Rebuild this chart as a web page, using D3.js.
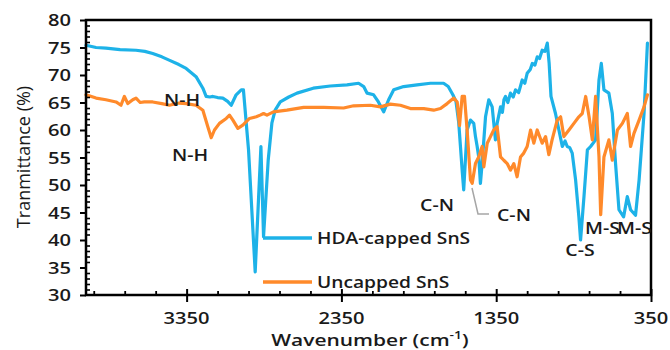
<!DOCTYPE html>
<html>
<head>
<meta charset="utf-8">
<script src="https://cdn.jsdelivr.net/npm/d3@7"></script>
<style>
  html, body { margin: 0; padding: 0; background: #fff; }
  svg { display: block; font-family: "Open Sans", "DejaVu Sans", sans-serif; }
</style>
</head>
<body>
<svg id="chart" width="670" height="350"></svg>
<script>
// ---------- data ----------
const seriesNames = ["HDA-capped SnS", "Uncapped SnS"];

const hdaWavenumber = [4000,3935,3871,3780,3677,3620,3569,3510,3463,3400,3353,3289,3245,3224,3200,3180,3150,3116,3085,3062,3030,2997,2983,2961,2950,2907,2870,2853,2823,2799,2778,2745,2690,2637,2532,2422,2314,2239,2206,2184,2142,2111,2077,2045,2012,1948,1861,1775,1690,1660,1630,1610,1592,1570,1560,1538,1516,1495,1484,1473,1463,1452,1441,1419,1398,1376,1355,1344,1322,1310,1300,1290,1275,1258,1240,1225,1205,1182,1165,1150,1130,1117,1100,1085,1070,1053,1035,1020,1008,996,967,945,923,905,891,875,859,837,816,805,783,761,740,708,686,671,654,622,600,579,557,527,503,482,450,427,395,373];
const hdaTransmittance = [75.4,75.0,74.9,74.6,74.5,74.3,73.9,73.3,72.7,71.9,71.2,69.7,67.6,66.1,66.0,66.1,65.9,65.8,65.2,64.5,66.4,67.3,67.3,60.0,56.4,34.2,57.0,40.6,54.5,61.3,63.6,65.1,66.0,66.7,67.6,68.0,68.2,68.5,67.9,66.7,66.4,65.1,63.3,65.5,67.3,67.9,68.2,68.5,68.5,67.9,66.4,65.2,61.3,52.7,49.1,60.0,61.8,61.2,58.8,57.0,55.1,50.3,53.9,62.4,65.5,64.2,58.2,61.2,64.2,63.2,65.5,66.1,65.0,66.7,66.0,67.3,66.8,69.1,68.5,70.3,71.0,72.1,71.8,73.3,73.0,74.5,74.3,75.8,72.1,66.1,63.0,60.0,57.0,58.0,57.0,56.8,55.8,50.9,44.2,40.0,47.9,56.4,57.0,58.2,69.1,72.1,67.3,66.7,63.0,53.9,45.5,44.2,47.9,45.5,44.5,50.9,63.0,75.8];

const uncWavenumber = [4000,3935,3871,3806,3774,3752,3730,3698,3677,3650,3623,3569,3510,3461,3400,3353,3289,3245,3213,3191,3170,3138,3094,3073,3051,3019,2987,2944,2900,2875,2853,2831,2789,2702,2594,2465,2336,2271,2163,2098,2034,1969,1904,1818,1754,1710,1667,1624,1602,1587,1570,1555,1538,1516,1505,1484,1463,1441,1430,1408,1387,1366,1344,1322,1301,1279,1258,1236,1215,1193,1172,1150,1128,1107,1085,1053,1031,1010,989,956,934,913,880,848,816,794,772,750,729,708,686,675,654,622,600,567,535,503,482,460,427,395,373];
const uncTransmittance = [66.4,65.8,65.5,65.1,64.5,66.1,64.8,65.5,65.8,65.0,65.1,65.1,64.8,64.5,64.9,64.8,64.5,63.6,60.6,58.6,60.0,61.2,62.1,62.7,61.8,60.3,60.9,62.1,62.4,62.7,63.0,62.7,63.3,63.6,64.1,64.1,64.0,64.4,64.5,64.2,64.7,64.5,63.9,63.9,63.6,63.9,64.8,65.8,65.1,60.8,66.1,66.1,60.0,50.9,50.3,53.9,55.1,57.0,53.3,57.6,58.8,60.0,60.6,55.1,54.5,53.9,52.7,53.9,51.5,55.1,55.8,57.0,60.0,57.6,60.0,57.6,58.8,55.5,58.2,61.8,62.4,58.8,60.0,61.2,62.4,63.0,66.1,62.4,58.2,66.1,55.1,44.6,55.1,58.2,54.5,60.0,61.2,63.0,57.0,59.4,61.8,64.2,66.4];

const yMajorTicks = [30,35,40,45,50,55,60,65,70,75,80];
const xMajorTicks = [3350,2350,1350,350];
const bandLabels = ["N-H","N-H","C-N","C-N","C-S","M-S","M-S"];

// ---------- layout ----------
const colors = ["#1db2e8", "#ff8a2b"];
const margin = {left: 86, right: 651, top: 20, bottom: 295};
const stretch = 1.22;   // the reference's lettering is horizontally widened
const ink = "#1a1a1a";
const svg = d3.select("#chart");

const x = d3.scaleLinear().domain([4000, 350]).range([margin.left, margin.right]);
const y = d3.scaleLinear().domain([30, 80]).range([margin.bottom, margin.top]);

const line = d3.line().x(d => x(d[0])).y(d => y(d[1]));
const hda = d3.zip(hdaWavenumber, hdaTransmittance);
const unc = d3.zip(uncWavenumber, uncTransmittance);

function wideText(sel, px, py, anchor, size, weight, str, sx) {
  return sel.append("text")
    .attr("transform", `translate(${px},${py}) scale(${sx || stretch},1)`)
    .attr("text-anchor", anchor).attr("font-size", size).attr("font-weight", weight)
    .attr("fill", ink).text(str);
}

// curves
[hda, unc].forEach((d, i) => {
  svg.append("path").datum(d).attr("d", line)
    .attr("fill","none").attr("stroke",colors[i]).attr("stroke-width",3.2)
    .attr("stroke-linejoin","round").attr("stroke-linecap","round");
});

// frame
svg.append("rect").attr("x",margin.left).attr("y",margin.top)
  .attr("width",margin.right-margin.left).attr("height",margin.bottom-margin.top)
  .attr("fill","none").attr("stroke","#000").attr("stroke-width",2.5);

// y axis major (outward), labels drawn separately for widened lettering
const yAxis = svg.append("g").attr("transform",`translate(${margin.left},0)`)
  .call(d3.axisLeft(y).tickValues(yMajorTicks).tickSize(6).tickFormat(""));
yAxis.select(".domain").remove();
yAxis.selectAll("line").attr("stroke","#000").attr("stroke-width",2);
yMajorTicks.forEach(v => wideText(svg, 71, y(v) + 6, "end", 16.5, 600, d3.format("d")(v)));

// y axis minor (inward)
const yMinor = svg.append("g").attr("transform",`translate(${margin.left},0)`)
  .call(d3.axisRight(y).tickValues(d3.range(31,80,1).filter(v=>v%5!==0)).tickSize(4).tickFormat(""));
yMinor.select(".domain").remove();
yMinor.selectAll("line").attr("stroke","#000").attr("stroke-width",1.6);

// x axis major (crossing the axis line)
const xAxis = svg.append("g").attr("transform",`translate(0,${margin.bottom})`)
  .call(d3.axisBottom(x).tickValues(xMajorTicks).tickSize(7).tickFormat(""));
xAxis.select(".domain").remove();
xAxis.selectAll("line").attr("stroke","#000").attr("stroke-width",2);
const xUp = svg.append("g").attr("transform",`translate(0,${margin.bottom})`)
  .call(d3.axisTop(x).tickValues(xMajorTicks).tickSize(6).tickFormat(""));
xUp.select(".domain").remove();
xUp.selectAll("line").attr("stroke","#000").attr("stroke-width",2);
xMajorTicks.forEach(v => wideText(svg, x(v), 324, "middle", 16.5, 600, d3.format("d")(v)));
// x minor (inward)
const xMinor = svg.append("g").attr("transform",`translate(0,${margin.bottom})`)
  .call(d3.axisTop(x).tickValues(d3.range(550,4000,200).filter(v=>!xMajorTicks.includes(v))).tickSize(4).tickFormat(""));
xMinor.select(".domain").remove();
xMinor.selectAll("line").attr("stroke","#000").attr("stroke-width",1.8);

// axis titles
svg.append("text").attr("transform","translate(30,157) rotate(-90)")
  .attr("text-anchor","middle").attr("font-size",18).attr("font-weight",500).attr("fill",ink)
  .text("Tranmittance (%)");
const xt = wideText(svg, 370, 346, "middle", 16.5, 600, null, 1.27);
xt.append("tspan").text("Wavenumber (cm");
xt.append("tspan").attr("font-size",11).attr("dy",-7).text("-1");
xt.append("tspan").attr("dy",7).text(")");

// band annotations (pixel positions on the chart)
const annPos = [
  {x:182, y:106, a:"middle"},
  {x:190, y:161, a:"middle"},
  {x:437, y:211, a:"middle"},
  {x:497, y:221, a:"start"},
  {x:580, y:256, a:"middle"},
  {x:585, y:234, a:"start"},
  {x:617, y:234, a:"start"}
];
bandLabels.forEach((t,i) => wideText(svg, annPos[i].x, annPos[i].y, annPos[i].a, 16, 600, t));
// leader line for the second C-N
svg.append("path").attr("d","M472,188 L478,214 L489,214")
  .attr("fill","none").attr("stroke","#a6a6a6").attr("stroke-width",1.5);

// legend
const legendY = [238, 282];
seriesNames.forEach((n,i) => {
  svg.append("line").attr("x1",263).attr("x2",312).attr("y1",legendY[i]).attr("y2",legendY[i])
    .attr("stroke",colors[i]).attr("stroke-width",3.5);
  wideText(svg, 317, legendY[i] + 6, "start", 16, 600, n, 1.2);
});
</script>
</body>
</html>
